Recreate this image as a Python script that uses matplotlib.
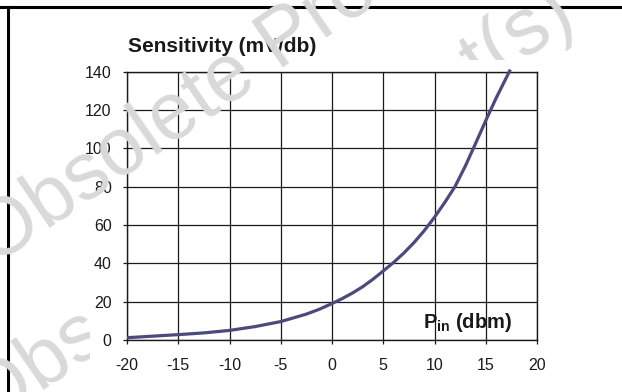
"""Sensitivity vs input power curve, datasheet style."""

import matplotlib
matplotlib.use("Agg")
import matplotlib.pyplot as plt
from matplotlib.lines import Line2D
from matplotlib.transforms import Bbox

plt.rcParams["font.family"] = ["Liberation Sans", "DejaVu Sans"]
plt.rcParams["mathtext.fontset"] = "custom"
plt.rcParams["mathtext.rm"] = "Liberation Sans"
plt.rcParams["mathtext.bf"] = "Liberation Sans:bold"
plt.rcParams["axes.unicode_minus"] = False

# curve
pin_dbm = [-20, -17.5, -15, -12.5, -10, -7.5, -5, -2.5, -1.25, 0, 1, 2, 3, 4, 5, 6, 7, 8, 9,
           10, 11, 12, 13, 14, 15, 16, 17.4]
sens_mv = [1.2, 2.0, 2.8, 3.7, 5.0, 7.0, 9.6, 13.5, 16.0, 19.0, 21.6, 24.5, 27.8, 31.7, 36.0,
           40.4, 45.3, 50.8, 57.0, 64.0, 71.7, 80.0, 90.6, 102.4, 114.4, 126.0, 141.0]

x_ticks = [-20, -15, -10, -5, 0, 5, 10, 15, 20]
y_ticks = [0, 20, 40, 60, 80, 100, 120, 140]

W, H = 622, 392
fig = plt.figure(figsize=(W / 100, H / 100), dpi=100)
ax = fig.add_axes([127 / W, 1 - 340 / H, 410 / W, 268.5 / H])

ax.plot(pin_dbm, sens_mv, color="#4b4a7c", lw=2.3, solid_capstyle="butt",
        solid_joinstyle="round", zorder=3, clip_on=False)
ax.set_xlim(-20, 20)
ax.set_ylim(0, 140)
ax.set_xticks(x_ticks)
ax.set_yticks(y_ticks)
ax.grid(True, color="#1a1a1a", lw=0.9)
ax.set_axisbelow(True)
for sp in ax.spines.values():
    sp.set_color("#1a1a1a")
    sp.set_linewidth(1.0)
ax.tick_params(axis="both", direction="out", length=3, width=0.9, color="#1a1a1a",
               labelsize=11.5, labelcolor="#1a1a1a")
ax.tick_params(axis="x", pad=10)
ax.tick_params(axis="y", pad=8)

fig.text(128 / W, 1 - 52 / H, "Sensitivity (mV/db)", fontsize=15, fontweight="bold",
         color="#1a1a1a", ha="left", va="baseline")
ax.text(0.939, 0.045, r"$\mathbf{P}_{\mathbf{in}}$ (dbm)", transform=ax.transAxes,
        fontsize=14.5, fontweight="bold", color="#1a1a1a", ha="right", va="baseline")

# page frame
fig.add_artist(Line2D([0, 1], [1 - 7 / H, 1 - 7 / H], transform=fig.transFigure, color="black", lw=2.2))
fig.add_artist(Line2D([8 / W, 8 / W], [0, 1 - 7 / H], transform=fig.transFigure, color="black", lw=2.2))

# watermark
wm = dict(fontsize=58, color="#d9d9d9", rotation=34.5, rotation_mode="anchor",
          ha="left", va="baseline", zorder=10)
fig.text(-6 / W, 1 - 266 / H, "Obsolete Product(s)", **wm)
for box in [Bbox([[0, 0], [90, H]]), Bbox([[400, H - 60], [W, H]])]:
    t = fig.text(-12 / W, 1 - 428 / H, "Obsolete Product(s)", **wm)
    t.set_clip_box(box)
    t.set_clip_on(True)

fig.savefig("out.png", dpi=100)
